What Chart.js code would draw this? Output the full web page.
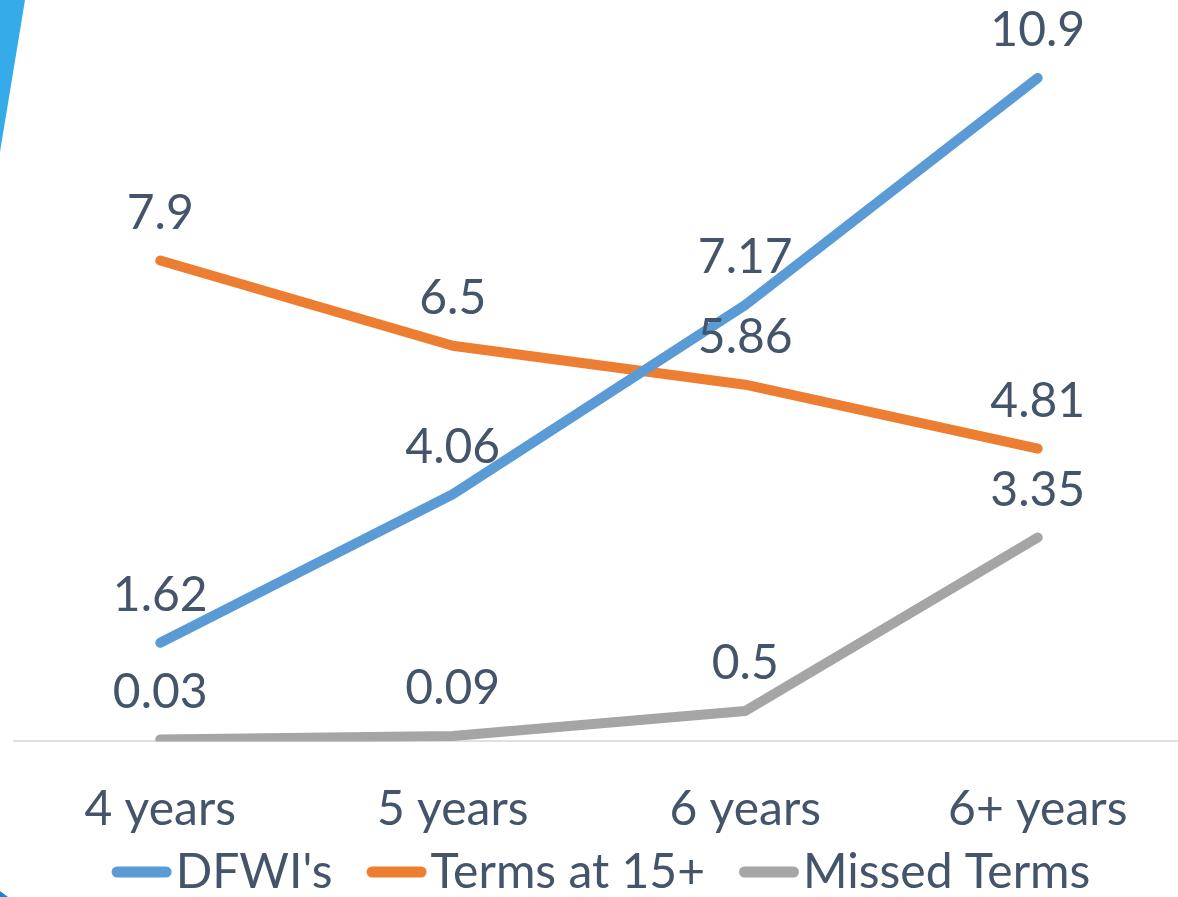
<!DOCTYPE html>
<html>
<head>
<meta charset="utf-8">
<script src="https://cdn.jsdelivr.net/npm/chart.js@4.4.1/dist/chart.umd.min.js"></script>
<style>
  html, body { margin:0; padding:0; background:#fff; overflow:hidden; }
  #wrap { position:relative; width:1190px; height:897px; }
  .stripe { position:absolute; left:0; top:0; width:30px; height:160px; background:#36abe9;
            clip-path: polygon(0 0, 25px 0, 0 152px); z-index:2; }
  .corner { position:absolute; left:0; bottom:0; width:8px; height:6px; background:#1a86c8;
            clip-path: polygon(0 0, 100% 100%, 0 100%); z-index:2; }
</style>
</head>
<body>
<div id="wrap">
  <div class="stripe"></div>
  <div class="corner"></div>
  <canvas id="chart" width="1190" height="897"></canvas>
</div>
<script>
/* ---------------- data ---------------- */
const categories = ["4 years", "5 years", "6 years", "6+ years"];
const dfwiValues   = [1.62, 4.06, 7.17, 10.9];
const termsValues  = [7.9, 6.5, 5.86, 4.81];
const missedValues = [0.03, 0.09, 0.5, 3.35];
const seriesNames  = ["DFWI's", "Terms at 15+", "Missed Terms"];

const COLORS = { blue:"#5b9bd5", orange:"#ed7d31", gray:"#a5a5a5", text:"#44546a", axis:"#dde1e6" };
const FONT = "Lato, 'Open Sans', sans-serif";
const FSIZE = 48;

function line(label, data, color){
  return {
    label, data,
    borderColor: color,
    backgroundColor: color,
    borderWidth: 10,
    borderCapStyle: 'round',
    borderJoinStyle: 'round',
    pointRadius: 0,
    tension: 0
  };
}

/* data labels above each point */
const valueLabels = {
  id: 'valueLabels',
  afterDatasetsDraw(chart){
    const ctx = chart.ctx;
    ctx.save();
    ctx.font = `${FSIZE}px ${FONT}`;
    ctx.fillStyle = COLORS.text;
    ctx.textAlign = 'center';
    ctx.textBaseline = 'middle';
    chart.data.datasets.forEach((ds, i) => {
      chart.getDatasetMeta(i).data.forEach((pt, j) => {
        ctx.fillText(String(ds.data[j]), pt.x, pt.y - 47);
      });
    });
    ctx.restore();
  }
};

/* bottom legend: rounded line marker + name */
const lineLegend = {
  id: 'lineLegend',
  afterDraw(chart){
    const ctx = chart.ctx;
    const markW = 60, markH = 11, gap = 4, spacing = 34, cy = 873, cx = 601;
    ctx.save();
    ctx.font = `${FSIZE}px ${FONT}`;
    ctx.textBaseline = 'middle';
    ctx.textAlign = 'left';
    const items = chart.data.datasets.map(ds => ({ text: ds.label, color: ds.borderColor, w: ctx.measureText(ds.label).width }));
    const total = items.reduce((s, it) => s + markW + gap + it.w, 0) + spacing * (items.length - 1);
    let x = cx - total / 2;
    items.forEach(it => {
      ctx.fillStyle = it.color;
      ctx.beginPath();
      ctx.roundRect(x, cy - markH / 2 - 1, markW, markH, markH / 2);
      ctx.fill();
      ctx.fillStyle = COLORS.text;
      ctx.fillText(it.text, x + markW + gap, cy);
      x += markW + gap + it.w + spacing;
    });
    ctx.restore();
  }
};

new Chart(document.getElementById('chart'), {
  type: 'line',
  data: {
    labels: categories,
    datasets: [
      line(seriesNames[0], dfwiValues, COLORS.blue),
      line(seriesNames[1], termsValues, COLORS.orange),
      line(seriesNames[2], missedValues, COLORS.gray)
    ]
  },
  plugins: [valueLabels, lineLegend],
  options: {
    responsive: false,
    animation: false,
    layout: { padding: { left: 14, right: 6, top: 11, bottom: 20 } },
    plugins: { legend: { display: false }, tooltip: { enabled: false } },
    scales: {
      x: {
        offset: true,
        grid: { display: false, drawTicks: false },
        border: { display: true, color: COLORS.axis, width: 2 },
        ticks: { color: COLORS.text, padding: 39, font: { family: FONT, size: FSIZE } }
      },
      y: { display: false, min: 0, max: 12 }
    }
  }
});
</script>
</body>
</html>
